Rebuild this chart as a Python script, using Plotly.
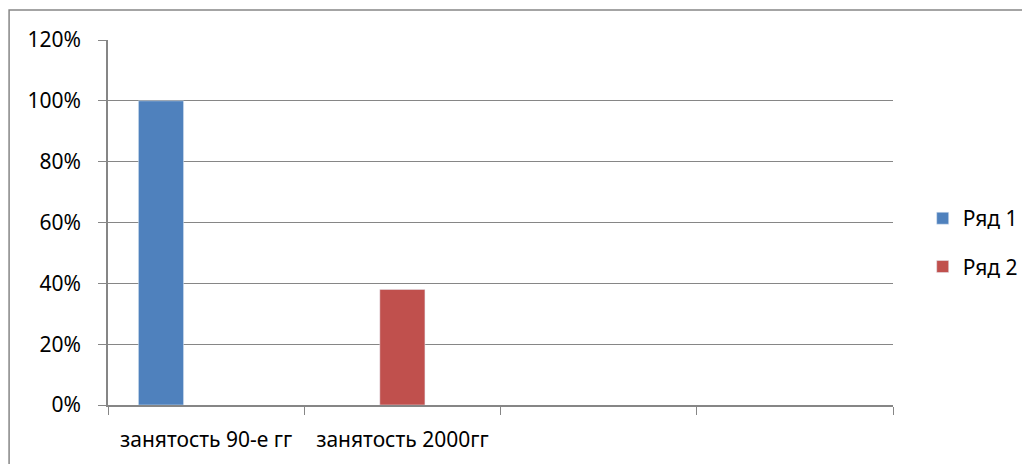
import plotly.graph_objects as go

categories = ["занятость 90-е гг", "занятость 2000гг", " ", "  "]
series1 = [1.00, None, None, None]
series2 = [None, 0.38, None, None]
series3 = [None, None, None, None]

fig = go.Figure()
fig.add_trace(go.Bar(x=categories, y=series1, name="Ряд 1", marker_color="#4F81BD", legendgroup="a"))
fig.add_trace(go.Bar(x=categories, y=series2, name="Ряд 2", marker_color="#C0504D", legendgroup="b"))
fig.add_trace(go.Bar(x=categories, y=series3, name="Ряд 3", marker_color="#9BBB59", showlegend=False))

grid = "#868686"
# page body has 8px margin, so the figure is 8px smaller than the window
fig.update_layout(
    width=1022,
    height=456,
    margin=dict(l=100, r=137, t=32, b=59, autoexpand=False),
    plot_bgcolor="white",
    paper_bgcolor="white",
    barmode="group",
    bargap=0.31,
    bargroupgap=0,
    font=dict(family="Noto Sans", size=21, color="black"),
    legend=dict(xref="container", x=0.895, y=0.445, xanchor="left", yanchor="middle",
                tracegroupgap=18, font=dict(size=21)),
    showlegend=True,
)
fig.update_xaxes(
    type="category",
    tickson="boundaries",
    ticks="outside",
    ticklen=8,
    tickcolor=grid,
    showline=True,
    linecolor=grid,
    linewidth=1.5,
    showgrid=False,
    ticklabelstandoff=15,
    tickfont=dict(size=21),
)
fig.update_yaxes(
    range=[0, 1.2],
    dtick=0.2,
    tickformat=".0%",
    showgrid=True,
    gridcolor=grid,
    gridwidth=1,
    ticks="outside",
    ticklen=8,
    tickcolor=grid,
    showline=True,
    linecolor=grid,
    linewidth=1.5,
    zeroline=False,
    ticklabelstandoff=13,
    tickfont=dict(size=21),
)
fig.add_shape(type="rect", xref="paper", yref="paper",
              x0=-0.126, x1=1.3, y0=-0.3, y1=1.082,
              line=dict(color=grid, width=1.5), layer="below")

fig.write_html("out.html")
